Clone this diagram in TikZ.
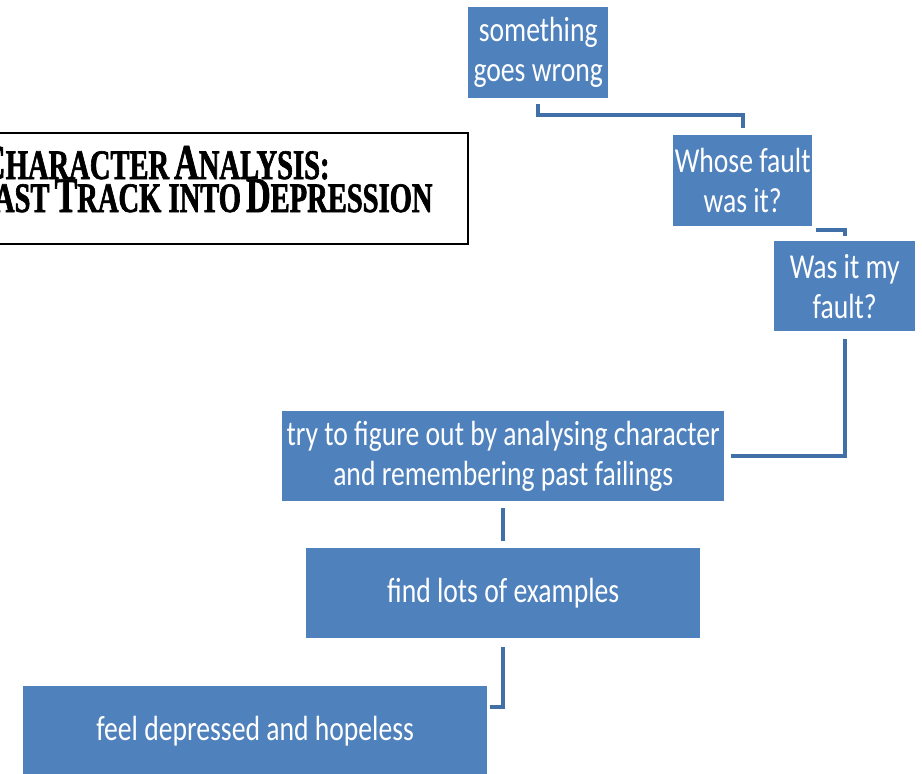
\documentclass[tikz,border=0pt]{standalone}
\usepackage{fontspec}
\usetikzlibrary{calc}
\newfontfamily\boxfont{Carlito}[FakeStretch=0.79]
\newfontfamily\titlefont{Liberation Serif}[FakeStretch=0.68, FakeBold=1.5]
\definecolor{stepblue}{HTML}{4F81BD}
\definecolor{linkblue}{HTML}{416FA8}
% small-caps style heading letters
\newcommand\capbig[1]{{\fontsize{50}{50}\selectfont #1}}
\newcommand\capsmall[1]{{\fontsize{42}{42}\selectfont #1}}
\begin{document}
\begin{tikzpicture}[x=1pt,y=-1pt,
  stepbox/.style={fill=stepblue, text=white, anchor=north west, inner sep=0pt,
    align=center, font=\boxfont\fontsize{35}{40}\selectfont},
  conn/.style={draw=linkblue, line width=4pt},
  titlebox/.style={draw=black, line width=1.6pt, anchor=north west, inner sep=0pt},
  titletext/.style={anchor=base west, inner sep=0pt,
    font=\titlefont\bfseries\fontsize{30}{30}\selectfont}]
\useasboundingbox (0,0) rectangle (922,774);

% heading
\node[titlebox, minimum width=477pt, minimum height=111pt] (tbox) at (-10,132) {};
\node[titletext] (t1) at (-19,179) {\capbig{C}\capsmall{HARACTER} \capbig{A}\capsmall{NALYSIS:}};
\node[titletext] (t2) at (-27,212) {\capbig{F}\capsmall{AST} \capbig{T}\capsmall{RACK INTO} \capbig{D}\capsmall{EPRESSION}};

% process steps
\node[stepbox, minimum width=140pt, minimum height=91pt] (b1) at (468,7) {something\\goes wrong};
\node[stepbox, minimum width=139pt, minimum height=91pt] (b2) at (673,135) {Whose fault\\was it?};
\node[stepbox, minimum width=141pt, minimum height=90pt] (b3) at (774,241) {Was it my\\fault?};
\node[stepbox, minimum width=442pt, minimum height=90pt] (b4) at (282,411) {try to figure out by analysing character\\and remembering past failings};
\node[stepbox, minimum width=394pt, minimum height=90pt] (b5) at (306,548) {find lots of examples};
\node[stepbox, minimum width=464pt, minimum height=90pt] (b6) at (23,686) {feel depressed and hopeless};

% connectors
\draw[conn] ([yshift=-6pt]b1.south) -- ++(0,11) -| ([yshift=7pt]b2.north);
\draw[conn] ([shift={(4pt,-4pt)}]b2.south east) -| ([yshift=5pt]b3.north);
\draw[conn] ([yshift=-8pt]b3.south) |- ([xshift=7pt]b4.east);
\draw[conn] ([yshift=-7pt]b4.south) -- ([yshift=7pt]b5.north);
\coordinate (b6in) at ($(b6.north east)+(3,21)$);
\draw[conn] ([yshift=-9pt]b5.south) |- (b6in);
\end{tikzpicture}
\end{document}
